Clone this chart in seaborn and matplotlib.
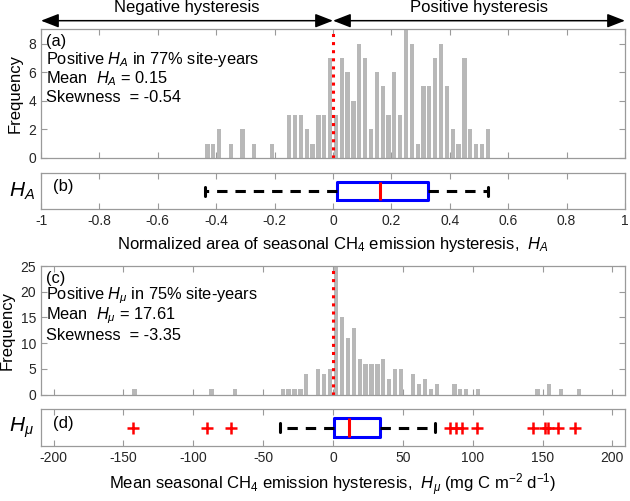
import numpy as np
import pandas as pd
import matplotlib
matplotlib.use("Agg")
import matplotlib.pyplot as plt
import seaborn as sns

# ── Data ─────────────────────────────────────────────────────────────────────
# (a) histogram of normalized hysteresis area H_A (bin width 0.02)
ha_centers = [-0.43, -0.41, -0.39, -0.35, -0.31, -0.27, -0.21, -0.15, -0.13,
              -0.11, -0.09, -0.07, -0.05, -0.03, -0.01,
              0.01, 0.03, 0.05, 0.07, 0.09, 0.11, 0.13, 0.15, 0.17, 0.19,
              0.21, 0.23, 0.25, 0.27, 0.29, 0.31, 0.33, 0.35, 0.37, 0.39,
              0.41, 0.43, 0.45, 0.47, 0.49, 0.51, 0.53]
ha_counts = [1, 1, 2, 1, 2, 1, 1, 3, 3,
             3, 2, 1, 3, 3, 7,
             3, 7, 6, 4, 8, 7, 2, 6, 5, 3,
             6, 3, 9, 8, 1, 5, 5, 7, 8, 5,
             2, 1, 7, 2, 1, 1, 2]

# (b) box summary of H_A
ha_box = dict(whislo=-0.44, q1=0.014, med=0.16, q3=0.325, whishi=0.53)
ha_fliers = []

# (c) histogram of mean hysteresis H_mu (bin width ~4.24)
hm_centers = [-142.0, -87.0, -70.0, -36.0, -32.0, -27.6, -23.3, -19.1, -10.6,
              -6.4, -2.1, 2.1, 6.4, 10.6, 14.8, 19.1, 23.3, 27.6, 31.8, 36.0,
              40.3, 44.5, 48.8, 57.2, 61.5, 65.7, 69.9, 74.2, 86.9, 91.2,
              95.4, 103.9, 146.3, 154.8, 163.2, 176.0]
hm_counts = [1, 1, 1, 1, 1, 1, 1, 4, 5,
             4, 5, 30, 15, 11, 13, 7, 6, 6, 6, 7,
             3, 5, 5, 4, 2, 3, 1, 2, 2, 1,
             1, 1, 1, 2, 1, 1]

# (d) box summary of H_mu with outliers
hm_box = dict(whislo=-38.0, q1=0.5, med=11.8, q3=33.8, whishi=73.0)
hm_fliers = [-143, -90, -73, 84, 88, 92, 103, 143, 152, 154, 161, 173]

# ── Style ────────────────────────────────────────────────────────────────────
GRAY_BAR = "#b8b8b8"
SPINE = "#9a9a9a"
TICK_TXT = "#262626"

sns.set_theme(style="white")
plt.rcParams.update({
    "font.family": ["Liberation Sans", "DejaVu Sans"],
    "mathtext.fontset": "custom",
    "mathtext.rm": "Liberation Sans",
    "mathtext.it": "Liberation Sans:italic",
    "axes.edgecolor": SPINE,
    "axes.linewidth": 0.9,
    "xtick.color": SPINE,
    "ytick.color": SPINE,
    "xtick.labelcolor": TICK_TXT,
    "ytick.labelcolor": TICK_TXT,
    "xtick.labelsize": 10,
    "ytick.labelsize": 10,
    "text.color": "black",
})

W, H = 630, 501
fig = plt.figure(figsize=(W / 100, H / 100), dpi=100)


def px_axes(left, top, right, bottom):
    return fig.add_axes([left / W, 1 - bottom / H, (right - left) / W, (bottom - top) / H])


ax_a = px_axes(41, 29.3, 625, 157.9)
ax_b = px_axes(41, 173.3, 625, 209)
ax_c = px_axes(41, 266, 625, 394.6)
ax_d = px_axes(41, 409.3, 625, 445.7)


def draw_hist(ax, centers, counts, edges, xlim, ylim, yticks):
    df = pd.DataFrame({"center": centers, "count": counts})
    sns.histplot(data=df, x="center", weights="count", bins=list(edges), ax=ax,
                 color=GRAY_BAR, alpha=1, shrink=0.72, linewidth=0, legend=False)
    ax.axvline(0, color="red", linestyle=":", linewidth=2.2)
    ax.set_xlim(*xlim)
    ax.set_ylim(*ylim)
    ax.set_yticks(yticks)
    ax.set_xlabel("")
    ax.set_ylabel("Frequency", fontsize=12, color="black", labelpad=4)
    ax.tick_params(axis="both", direction="in", length=4, top=True, right=True,
                   bottom=True, left=True, width=0.8)
    ax.tick_params(axis="x", labelbottom=False)
    for s in ax.spines.values():
        s.set_visible(True)


def draw_box(ax, box, fliers, xlim, xticks, xticklabels, ylab, xlab):
    stats = [dict(box, fliers=fliers)]
    ax.bxp(stats, positions=[0], widths=0.5, orientation="horizontal",
           showfliers=True, capwidths=0.26,
           boxprops=dict(color="#0000ff", linewidth=2.2),
           medianprops=dict(color="#ff0000", linewidth=2.2),
           whiskerprops=dict(color="black", linewidth=2.2, linestyle=(0, (3.4, 2.6))),
           capprops=dict(color="black", linewidth=2.2),
           flierprops=dict(marker="+", markeredgecolor="red", markersize=8,
                           markeredgewidth=1.8, linestyle="none"))
    ax.set_ylim(-0.5, 0.5)
    ax.set_yticks([])
    ax.set_xlim(*xlim)
    ax.set_xticks(xticks)
    ax.set_xticklabels(xticklabels)
    ax.tick_params(axis="x", direction="in", length=4, top=True, bottom=True, width=0.8)
    ax.set_ylabel(ylab, rotation=0, fontsize=15, color="black", labelpad=14, va="center")
    ax.set_xlabel(xlab, fontsize=12, color="black", labelpad=5)
    for s in ax.spines.values():
        s.set_visible(True)


# ── (a) / (b) H_A ────────────────────────────────────────────────────────────
ha_edges = np.round(np.arange(-0.46, 0.5601, 0.02), 4)
draw_hist(ax_a, ha_centers, ha_counts, ha_edges, (-1, 1), (0, 9), [0, 2, 4, 6, 8])
ax_a.set_xticks(np.round(np.arange(-1, 1.01, 0.2), 2))

txt = dict(transform=ax_a.transAxes, fontsize=11.8, va="center", ha="left")
ax_a.text(0.008, 0.905, "(a)", **txt)
ax_a.text(0.008, 0.767, "Positive $H_A$ in 77% site-years", **txt)
ax_a.text(0.008, 0.617, "Mean  $H_A$ = 0.15", **txt)
ax_a.text(0.008, 0.467, "Skewness  = -0.54", **txt)

arrow = dict(arrowstyle="<|-|>,head_length=0.9,head_width=0.35", color="black",
             lw=1.1, shrinkA=0, shrinkB=0)
ax_a.annotate("", xy=(-1, 1.067), xytext=(0, 1.067), xycoords=("data", "axes fraction"),
              arrowprops=arrow, annotation_clip=False)
ax_a.annotate("", xy=(0, 1.067), xytext=(1, 1.067), xycoords=("data", "axes fraction"),
              arrowprops=arrow, annotation_clip=False)
ax_a.text(-0.5, 1.17, "Negative hysteresis", transform=ax_a.get_xaxis_transform(),
          ha="center", va="center", fontsize=12)
ax_a.text(0.5, 1.17, "Positive hysteresis", transform=ax_a.get_xaxis_transform(),
          ha="center", va="center", fontsize=12)

ha_ticks = [-1, -0.8, -0.6, -0.4, -0.2, 0, 0.2, 0.4, 0.6, 0.8, 1]
ha_labels = ["-1", "-0.8", "-0.6", "-0.4", "-0.2", "0", "0.2", "0.4", "0.6", "0.8", "1"]
draw_box(ax_b, ha_box, ha_fliers, (-1, 1), ha_ticks, ha_labels, "$H_A$",
         "Normalized area of seasonal CH$_4$ emission hysteresis,  $H_A$")
ax_b.text(0.02, 0.63, "(b)", transform=ax_b.transAxes, fontsize=12, va="center")

# ── (c) / (d) H_mu ───────────────────────────────────────────────────────────
hm_w = 4.24
hm_edges = np.arange(-36, 45) * hm_w
draw_hist(ax_c, hm_centers, hm_counts, hm_edges, (-209, 209), (0, 25), [0, 5, 10, 15, 20, 25])
ax_c.set_xticks([-200, -150, -100, -50, 0, 50, 100, 150, 200])

txt = dict(transform=ax_c.transAxes, fontsize=11.8, va="center", ha="left")
ax_c.text(0.008, 0.905, "(c)", **txt)
ax_c.text(0.008, 0.767, r"Positive $H_\mu$ in 75% site-years", **txt)
ax_c.text(0.008, 0.612, r"Mean  $H_\mu$ = 17.61", **txt)
ax_c.text(0.008, 0.462, "Skewness  = -3.35", **txt)

hm_ticks = [-200, -150, -100, -50, 0, 50, 100, 150, 200]
hm_labels = ["-200", "-150", "-100", "-50", "0", "50", "100", "150", "200"]
draw_box(ax_d, hm_box, hm_fliers, (-209, 209), hm_ticks, hm_labels, r"$H_\mu$",
         r"Mean seasonal CH$_4$ emission hysteresis,  $H_\mu$ (mg C m$^{-2}$ d$^{-1}$)")
ax_d.text(0.02, 0.615, "(d)", transform=ax_d.transAxes, fontsize=12, va="center")

fig.savefig("out.png", dpi=100, facecolor="white")
